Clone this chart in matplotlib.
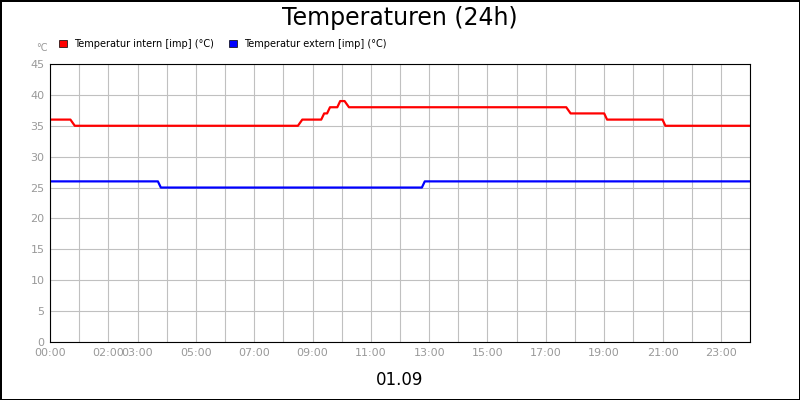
import matplotlib.pyplot as plt

# hours since 00:00 and values (stepped series)
intern_h = [0, 0.7, 0.85, 8.5, 8.65, 9.3, 9.4, 9.5, 9.6, 9.85, 9.95, 10.1, 10.25, 17.7, 17.85, 19.0, 19.1, 21.0, 21.1, 24]
intern_v = [36, 36, 35, 35, 36, 36, 37, 37, 38, 38, 39, 39, 38, 38, 37, 37, 36, 36, 35, 35]
extern_h = [0, 3.7, 3.8, 12.75, 12.85, 24]
extern_v = [26, 26, 25, 25, 26, 26]

tick_hours = [0, 2, 3, 5, 7, 9, 11, 13, 15, 17, 19, 21, 23]
tick_labels = ["00:00", "02:00", "03:00", "05:00", "07:00", "09:00", "11:00",
               "13:00", "15:00", "17:00", "19:00", "21:00", "23:00"]

fig = plt.figure(figsize=(8, 4), dpi=100)
fig.patch.set_edgecolor("black")
fig.patch.set_linewidth(2)
ax = fig.add_axes([50 / 800, 58 / 400, 700 / 800, 278 / 400])

ax.plot(intern_h, intern_v, color="#ff0000", lw=1.6)
ax.plot(extern_h, extern_v, color="#0000ff", lw=1.6)

ax.set_xlim(0, 24)
ax.set_ylim(0, 45)
ax.set_xticks(range(25), minor=True)
ax.set_xticks(tick_hours)
ax.set_xticklabels(tick_labels)
ax.set_yticks(range(0, 46, 5))
ax.grid(True, which="both", color="#c0c0c0", lw=0.8)
ax.set_axisbelow(True)
ax.tick_params(which="both", length=0, labelsize=8, labelcolor="#999999", pad=4)

fig.text(0.5, 0.955, "Temperaturen (24h)", ha="center", va="center", fontsize=17)
fig.text(0.5, 0.05, "01.09", ha="center", va="center", fontsize=12)
fig.text(42 / 800, 0.88, "°C", ha="center", va="center", fontsize=7, color="#999999")

fig.legend(loc="upper left", bbox_to_anchor=(50 / 800, 0.925), ncol=2, frameon=False,
           fontsize=7, handlelength=0.8, handleheight=0.8, columnspacing=1.5,
           handles=[plt.Rectangle((0, 0), 1, 1, fc="#ff0000", ec="black", lw=0.5),
                    plt.Rectangle((0, 0), 1, 1, fc="#0000ff", ec="black", lw=0.5)],
           labels=["Temperatur intern [imp] (°C)", "Temperatur extern [imp] (°C)"])

fig.savefig("out.png", dpi=100, edgecolor=fig.get_edgecolor())
